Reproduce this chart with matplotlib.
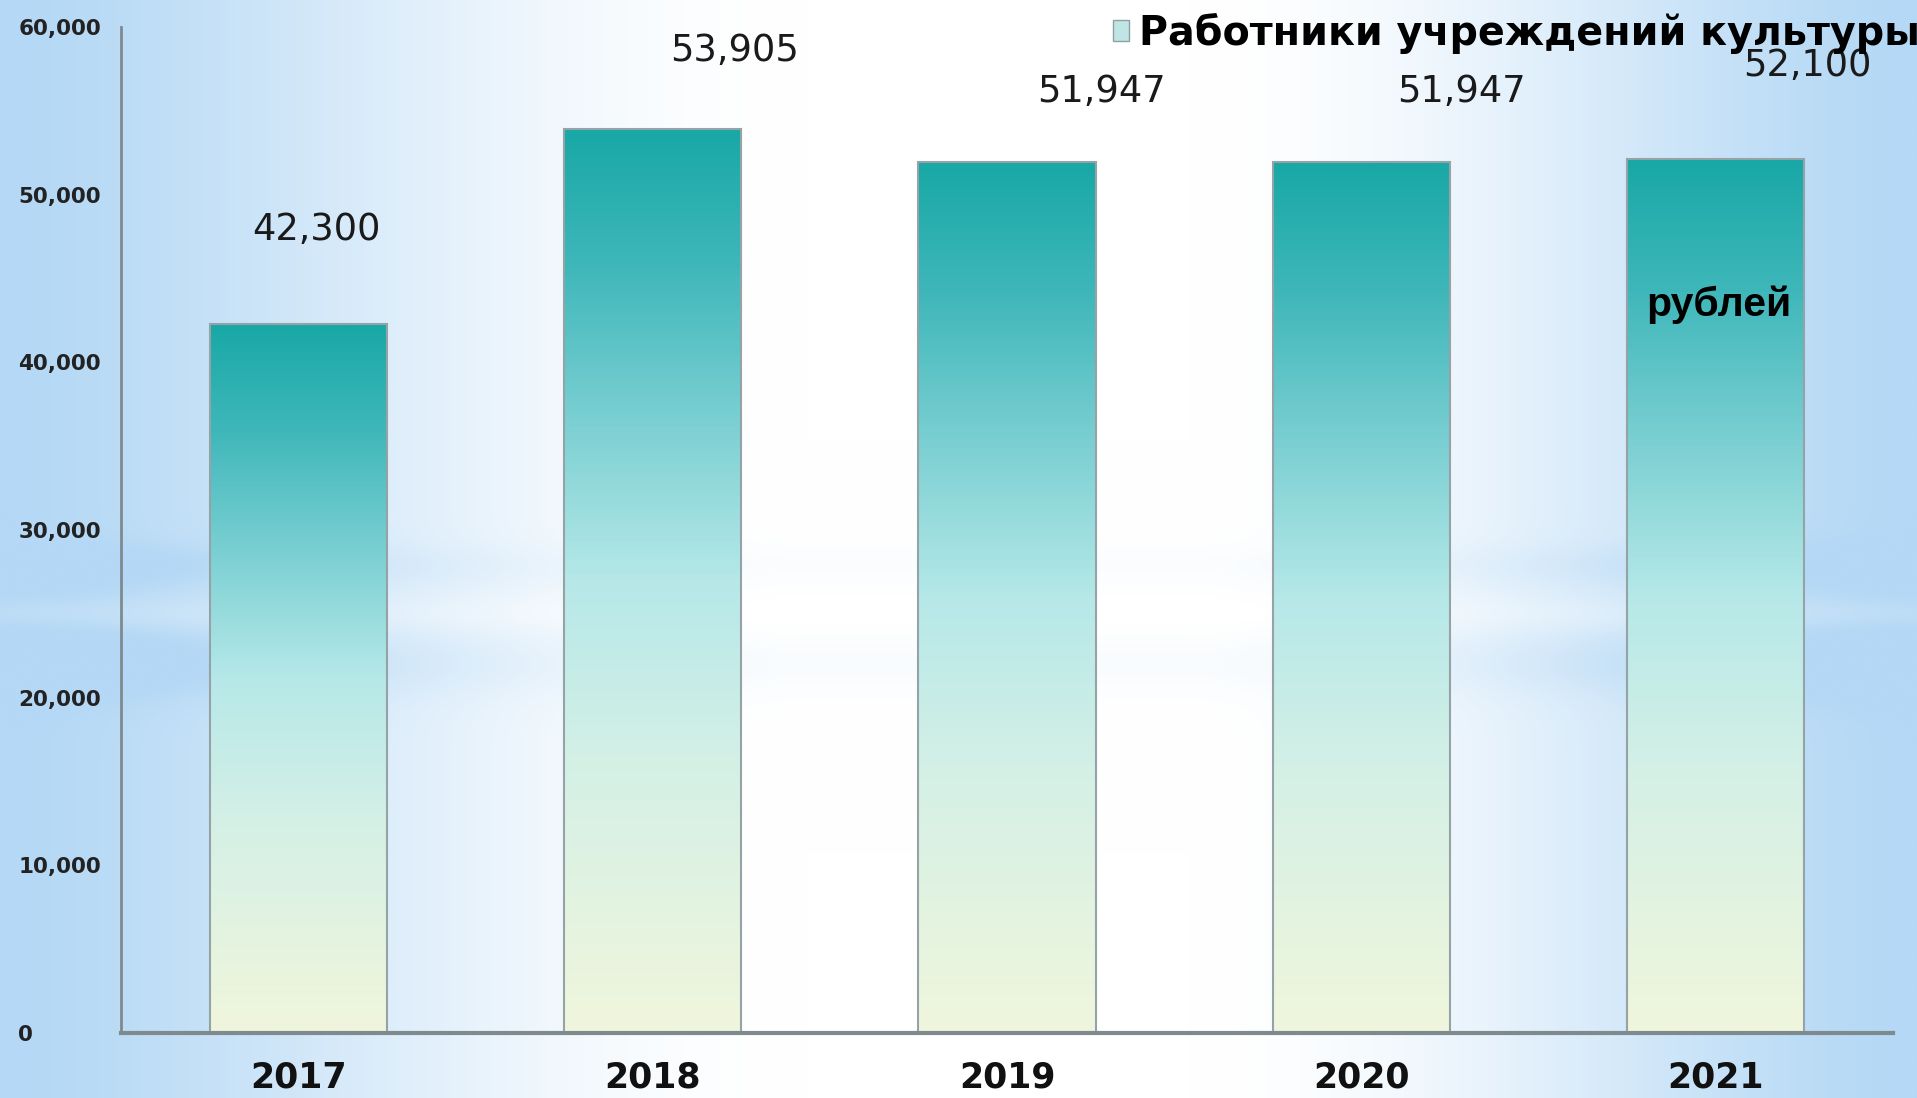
import matplotlib
matplotlib.use("Agg")
import matplotlib.pyplot as plt
import numpy as np
from matplotlib.colors import LinearSegmentedColormap
from matplotlib.patches import Patch
from matplotlib.ticker import StrMethodFormatter

# data
years = ["2017", "2018", "2019", "2020", "2021"]
salary = [42300, 53905, 51947, 51947, 52100]
series_name = "Работники учреждений культуры"
unit_note = "рублей"

# label offsets in points (dx, dy) from the bar top
label_dx = [13, 59, 68, 72, 66]
label_dy = [68, 57, 51, 51, 68]

W, H = 1917, 1098
fig = plt.figure(figsize=(W / 100, H / 100), dpi=100)


def smooth(t):
    t = np.clip(t, 0, 1)
    return t * t * (3 - 2 * t)


# background: blue at the sides, white in the middle, soft horizontal streaks
bg = fig.add_axes([0, 0, 1, 1], zorder=-10)
xx = np.linspace(0, 1, 500)
yy = np.linspace(0, 1, 400)
X, Y = np.meshgrid(xx, yy)
white_amt = np.where(X < 0.5, smooth(X / 0.42), smooth((1 - X) / 0.38)) ** 0.8
streak = (0.22 * np.exp(-((Y - 0.515) / 0.02) ** 2)
          + 0.30 * np.exp(-((Y - 0.605) / 0.03) ** 2)
          - 0.15 * np.exp(-((Y - 0.56) / 0.015) ** 2))
white_amt = np.clip(white_amt - streak * (1 - 0.75 * white_amt), 0, 1)
blue = np.array([180, 216, 245]) / 255.0
img = blue[None, None, :] * (1 - white_amt[..., None]) + white_amt[..., None]
bg.imshow(img, extent=[0, 1, 0, 1], aspect="auto", origin="upper")
bg.axis("off")

ax = fig.add_axes([121 / W, 1 - 1033 / H, (1893 - 121) / W, (1033 - 27) / H])
ax.patch.set_alpha(0)

bar_cmap = LinearSegmentedColormap.from_list(
    "bars",
    [(0.0, "#f0f6dc"), (0.3, "#d4f0e6"), (0.5, "#b6e8e8"),
     (0.68, "#7acfd2"), (0.85, "#3fb7ba"), (1.0, "#18a8a6")])
grad = np.linspace(1, 0, 256)[:, None]

x = np.arange(len(years))
width = 0.5
for xi, v in zip(x, salary):
    ax.imshow(grad, cmap=bar_cmap, extent=[xi - width / 2, xi + width / 2, 0, v],
              aspect="auto", zorder=2, vmin=0, vmax=1)
ax.bar(x, salary, width=width, fill=False, edgecolor="#95a3a6", linewidth=1.5, zorder=3)

for xi, v, dx, dy in zip(x, salary, label_dx, label_dy):
    ax.annotate(f"{v:,}", (xi, v), xytext=(dx, dy), textcoords="offset points",
                ha="center", va="center", fontsize=26.5, color="#1a1a1a",
                family="DejaVu Sans", zorder=5)

ax.text(4.01, 43450, unit_note, ha="center", va="center", fontsize=29.5,
        weight="bold", family="Liberation Sans", color="black", zorder=5)

ax.set_xlim(-0.5, 4.5)
ax.set_ylim(0, 60000)
ax.set_xticks(x)
ax.set_xticklabels(years)
ax.set_yticks(np.arange(0, 60001, 10000))
ax.yaxis.set_major_formatter(StrMethodFormatter("{x:,.0f}"))

for s in ["top", "right"]:
    ax.spines[s].set_visible(False)
ax.spines["left"].set_color("#7f8a8e")
ax.spines["left"].set_linewidth(2)
ax.spines["bottom"].set_color("#7f8a8e")
ax.spines["bottom"].set_linewidth(3)
ax.spines["left"].set_zorder(4)
ax.spines["bottom"].set_zorder(4)

ax.tick_params(axis="x", length=0, pad=20, labelsize=25, labelcolor="#111111")
ax.tick_params(axis="y", length=0, pad=74, labelsize=15.5, labelcolor="#222222")
for lab in ax.get_xticklabels():
    lab.set_fontweight("bold")
for lab in ax.get_yticklabels():
    lab.set_fontweight("bold")
    lab.set_ha("left")

handle = Patch(facecolor="#bfe6e4", edgecolor="#8fa0a4", linewidth=1)
fig.legend([handle], [series_name], loc="center left",
           bbox_to_anchor=(1113 / W, 1 - 33 / H), frameon=False,
           borderpad=0, borderaxespad=0, handlelength=0.4, handleheight=0.42,
           handletextpad=0.25, prop={"size": 28.5, "weight": "bold"})

fig.savefig("out.png", dpi=100)
